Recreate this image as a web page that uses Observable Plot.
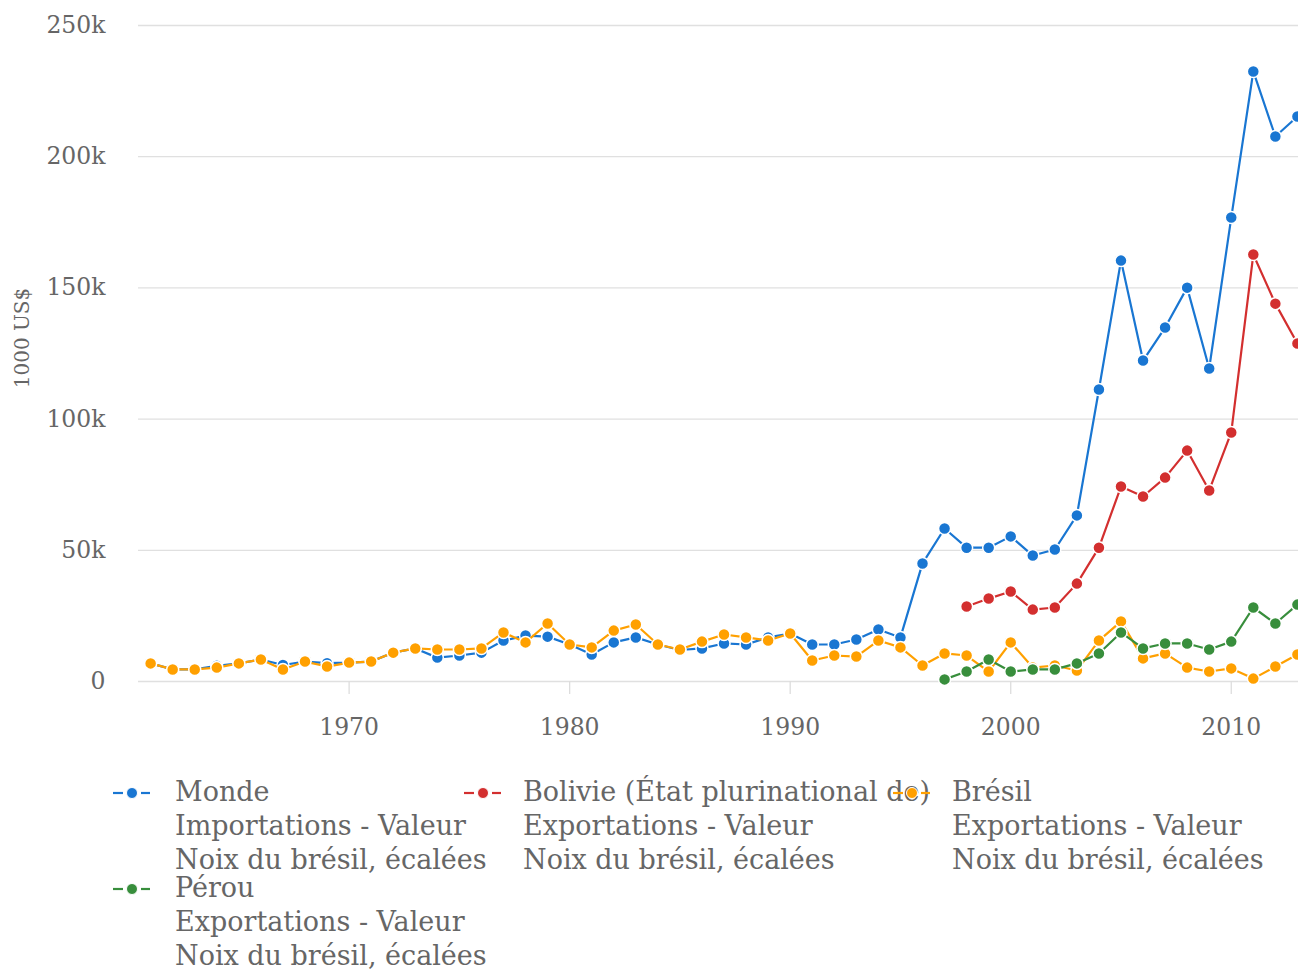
<!DOCTYPE html>
<html>
<head>
<meta charset="utf-8">
<script src="https://cdn.jsdelivr.net/npm/d3@7"></script>
<script src="https://cdn.jsdelivr.net/npm/@observablehq/plot@0.6"></script>
<style>
  html, body { margin: 0; padding: 0; background: #fff; overflow: hidden; width: 1298px; height: 969px; }
  #chart { position: absolute; left: 0; top: 0; width: 1330px; }
  #chart svg { max-width: none !important; }
  .leg { position: absolute; font-family: "DejaVu Serif", serif; font-size: 27px; line-height: 34px; color: #666; white-space: nowrap; }
  .mk { position: absolute; }
</style>
</head>
<body>
<div id="chart"></div>
<div id="legend"></div>
<script>
const years = d3.range(1961, 2014);

const monde = [6900, 4600, 4600, 6000, 6900, 8400, 6300, 7600, 7000, 7200,
  7600, 11000, 12600, 9100, 9900, 11000, 15600, 17500, 17100, 14100,
  10300, 14900, 16800, 14100, 12000, 12600, 14500, 14100, 16800, 18300,
  14100, 14100, 16000, 19800, 16800, 45000, 58300, 51000, 51000, 55300,
  48000, 50300, 63300, 111300, 160400, 122300, 134900, 150100, 119300, 176800,
  232500, 207700, 215300];

const bresil = [6900, 4600, 4600, 5300, 6900, 8400, 4600, 7600, 5700, 7200,
  7600, 11000, 12600, 12200, 12200, 12600, 18700, 14900, 22100, 14100,
  13000, 19400, 21700, 14100, 12200, 15200, 17900, 16800, 15600, 18300,
  8000, 9900, 9500, 15600, 13000, 6100, 10700, 9900, 3800, 14900,
  5300, 6100, 4200, 15600, 22900, 8800, 10700, 5300, 3800, 5000,
  1100, 5700, 10300];

const bolivieYears = d3.range(1998, 2014);
const bolivie = [28600, 31600, 34300, 27400, 28200, 37300, 51000, 74300, 70500, 77700,
  88000, 72800, 94900, 162700, 144000, 128800];

const perouYears = d3.range(1997, 2014);
const perou = [800, 3800, 8400, 3800, 4600, 4600, 6900, 10700, 18700, 12600,
  14500, 14500, 12200, 15200, 28200, 22100, 29300];

const seriesNames = ["Monde", "Bolivie (État plurinational de)", "Brésil", "Pérou"];
const seriesLines = [
  ["Monde", "Importations - Valeur", "Noix du brésil, écalées"],
  ["Bolivie (État plurinational de)", "Exportations - Valeur", "Noix du brésil, écalées"],
  ["Brésil", "Exportations - Valeur", "Noix du brésil, écalées"],
  ["Pérou", "Exportations - Valeur", "Noix du brésil, écalées"]
];
const colors = ["#1976D2", "#D32F2F", "#FFA000", "#388E3C"];
const yTicks = [0, 50000, 100000, 150000, 200000, 250000];
const xTicks = [1970, 1980, 1990, 2000, 2010];
const yLabel = "1000 US$";

const seriesData = [
  years.map((y, i) => ({year: y, value: monde[i]})),
  bolivieYears.map((y, i) => ({year: y, value: bolivie[i]})),
  years.map((y, i) => ({year: y, value: bresil[i]})),
  perouYears.map((y, i) => ({year: y, value: perou[i]}))
];

const marks = [
  Plot.gridY(yTicks, {stroke: "#e0e0e0", strokeOpacity: 1, strokeWidth: 1.3}),
  Plot.axisY(yTicks, {tickSize: 0, tickPadding: 33, tickFormat: d3.format("~s"), label: null, fill: "#666"}),
  Plot.axisX(xTicks, {tickSize: 13, tickPadding: 24, tickFormat: d => String(d), label: null, stroke: "#ddd", fill: "#666", strokeWidth: 1.3})
];
seriesData.forEach((data, k) => {
  marks.push(Plot.line(data, {x: "year", y: "value", stroke: colors[k], strokeWidth: 2.2}));
  marks.push(Plot.dot(data, {x: "year", y: "value", fill: colors[k], stroke: "white", strokeWidth: 1.5, r: 6}));
});

const chart = Plot.plot({
  width: 1330,
  height: 750,
  marginTop: 25,
  marginBottom: 69,
  marginLeft: 138,
  marginRight: 0,
  style: {fontFamily: "DejaVu Serif", fontSize: "23.5px", color: "#666", background: "white", overflow: "visible", maxWidth: "none"},
  x: {domain: [1960.45, 2014.5]},
  y: {domain: [0, 250000]},
  marks
});
document.getElementById("chart").appendChild(chart);

d3.select(chart).append("text")
  .attr("transform", "translate(22,338) rotate(-90)")
  .attr("text-anchor", "middle")
  .attr("dominant-baseline", "central")
  .attr("fill", "#666")
  .attr("font-family", "DejaVu Serif")
  .attr("font-size", 20)
  .text(yLabel);

// legend
const legendPos = [
  {dot: 132, text: 175, y: 793},
  {dot: 483, text: 523, y: 793},
  {dot: 912, text: 952, y: 793},
  {dot: 132, text: 175, y: 889}
];
const leg = d3.select("#legend");
legendPos.forEach((p, k) => {
  leg.append("div").attr("class", "leg")
    .style("left", p.text + "px").style("top", (p.y - 17 - 1) + "px")
    .html(seriesLines[k].join("<br>"));
  const s = leg.append("svg").attr("class", "mk")
    .attr("width", 40).attr("height", 14)
    .style("left", (p.dot - 20) + "px").style("top", (p.y - 7) + "px");
  s.append("line").attr("x1", 1).attr("x2", 11).attr("y1", 7).attr("y2", 7).attr("stroke", colors[k]).attr("stroke-width", 2.2);
  s.append("line").attr("x1", 29).attr("x2", 38).attr("y1", 7).attr("y2", 7).attr("stroke", colors[k]).attr("stroke-width", 2.2);
  s.append("circle").attr("cx", 20).attr("cy", 7).attr("r", 5.5).attr("fill", colors[k]).attr("stroke", "white").attr("stroke-width", 1);
});
</script>
</body>
</html>
